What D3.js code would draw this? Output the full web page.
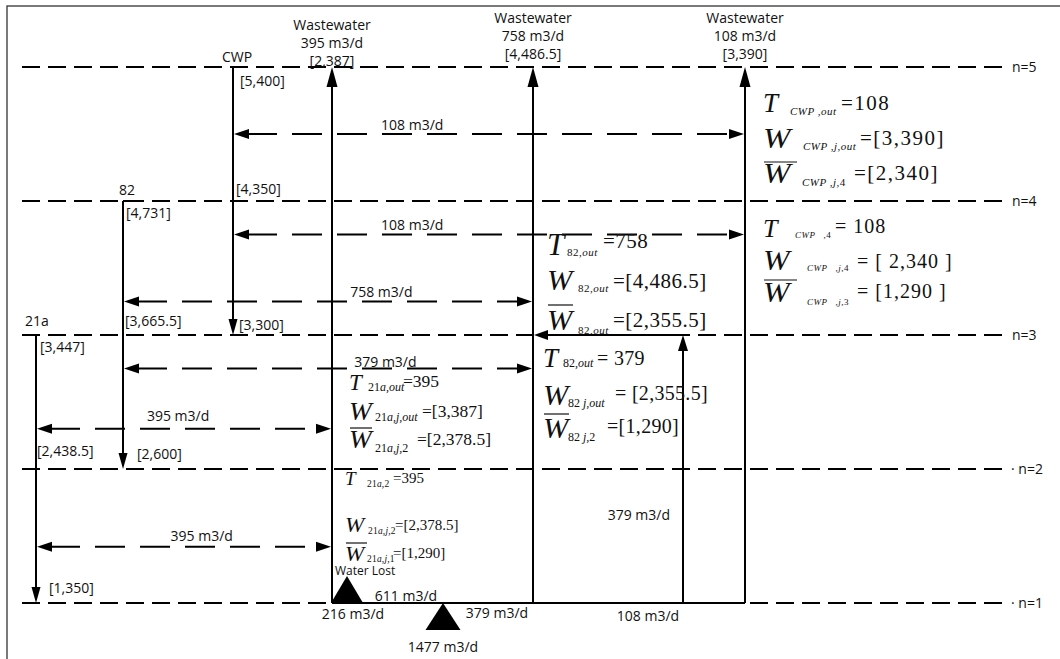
<!DOCTYPE html>
<html>
<head>
<meta charset="utf-8">
<script src="https://cdn.jsdelivr.net/npm/d3@7"></script>
<style>
  body { margin: 0; background: #fff; }
  text { fill: #111; }
  .lbl { font-family: "Open Sans", sans-serif; font-size: 14px; }
  .math text { font-family: "Liberation Serif", "Times New Roman", serif; white-space: pre; }
</style>
</head>
<body>
<script>
// interval levels and their labels
const levels = [1, 2, 3, 4, 5];
const levelLabels = ['\u00b7 n=1', '\u00b7 n=2', 'n=3', 'n=4', 'n=5'];

// process columns, left to right
const columns = ['21a', '82', 'CWP', 'WW395', 'WW758', 'R379', 'WW108'];

// source streams (go down the intervals)
const sourceNames = ['21a', '82', 'CWP'];
const sourceTop = [3, 4, 5];
const sourceBottom = [1, 2, 3];
const sourceConcIn = ['[3,447]', '[4,731]', '[5,400]'];
const sourceConcMid = ['[2,438.5]', '[3,665.5]', '[4,350]'];
const sourceConcOut = ['[1,350]', '[2,600]', '[3,300]'];

// wastewater sinks
const sinkKeys = ['WW395', 'WW758', 'WW108'];
const sinkFlow = [395, 758, 108];
const sinkConc = ['[2,387]', '[4,486.5]', '[3,390]'];

// transfers between a source and a sink (dashed double arrows)
const transferFrom = ['CWP', 'CWP', '82', '82', '21a', '21a'];
const transferTo = ['WW108', 'WW108', 'WW758', 'WW758', 'WW395', 'WW395'];
const transferLevel = [4.5, 3.75, 3.25, 2.75, 2.3, 1.42];
const transferFlow = [108, 108, 758, 379, 395, 395];

// fresh water / loss / return at n=1
const freshWater = 1477;
const waterLost = 216;
const bottomFlows = [611, 379, 108];
const returnFlow = 379;

// formula blocks: [symbol, subscript, value]
const fCwpOut = [['T', 'CWP ,out', '=108'], ['W', 'CWP ,j,out', '=[3,390]'], ['Wbar', 'CWP ,j,4', '=[2,340]']];
const fCwp4 = [['T', 'CWP   ,4', '= 108'], ['W', 'CWP   ,j,4', '= [ 2,340 ]'], ['Wbar', 'CWP   ,j,3', '= [1,290 ]']];
const f82Out = [['T', '82,out', '=758'], ['W', '82,out', '=[4,486.5]'], ['Wbar', '82,out', '=[2,355.5]']];
const f82j = [['T', '82,out', '= 379'], ['W', '82 j,out', '= [2,355.5]'], ['Wbar', '82 j,2', '=[1,290]']];
const f21aOut = [['T', '21a,out', '=395'], ['W', '21a,j,out', '=[3,387]'], ['Wbar', '21a,j,2', '=[2,378.5]']];
const f21a2 = [['T', '21a,2', '=395'], ['W', '21a,j,2', '=[2,378.5]'], ['Wbar', '21a,j,1', '=[1,290]']];

const width = 1060, height = 659;
const svg = d3.select('body').append('svg').attr('width', width).attr('height', height);

const y = d3.scaleLinear().domain([1, 5]).range([603, 67]);
const x = d3.scaleOrdinal().domain(columns).range([36, 123, 233, 332, 533, 683, 745]);
const x0 = 22, x1 = 1008;

svg.append('rect').attr('x', 7).attr('y', 6).attr('width', 1100).attr('height', 700)
  .attr('fill', 'none').attr('stroke', '#333').attr('stroke-width', 1.3);

// arrowhead, tip at (tx,ty)
function head(tx, ty, dir, len = 16, w = 11) {
  let p;
  if (dir === 'up') p = [[tx, ty], [tx - w / 2, ty + len], [tx + w / 2, ty + len]];
  if (dir === 'down') p = [[tx, ty], [tx - w / 2, ty - len], [tx + w / 2, ty - len]];
  if (dir === 'left') p = [[tx, ty], [tx + len, ty - w / 2], [tx + len, ty + w / 2]];
  if (dir === 'right') p = [[tx, ty], [tx - len, ty - w / 2], [tx - len, ty + w / 2]];
  svg.append('path').attr('d', d3.line()(p) + 'Z').attr('fill', '#000');
}
function seg(xa, ya, xb, yb, dash) {
  return svg.append('line').attr('x1', xa).attr('y1', ya).attr('x2', xb).attr('y2', yb)
    .attr('stroke', '#000').attr('stroke-width', 2).attr('stroke-dasharray', dash || null);
}
function label(tx, ty, s, anchor = 'start') {
  return svg.append('text').attr('class', 'lbl').attr('x', tx).attr('y', ty)
    .attr('text-anchor', anchor).text(s);
}

// interval lines
levels.forEach((n, i) => {
  seg(x0, y(n), x1, y(n), '18,8');
  label(levelLabels[i].startsWith('\u00b7') ? x1 + 3 : x1 + 4, y(n) + 5, levelLabels[i]);
});
// solid parts at n=1 and n=3
seg(x('WW395'), y(1), x('WW108'), y(1));
seg(x('WW758') + 12, y(3), x('R379'), y(3));
head(x('WW758') + 1, y(3), 'left', 14, 10);

// wastewater sinks
const headTop = { WW395: 30, WW758: 23, WW108: 23 };
sinkKeys.forEach((k, i) => {
  seg(x(k), y(1), x(k), y(5) + 14);
  head(x(k), y(5), 'up', 20, 11);
  const t = headTop[k];
  label(x(k), t, 'Wastewater', 'middle');
  label(x(k), t + 18, sinkFlow[i] + ' m3/d', 'middle');
  label(x(k), t + 36, sinkConc[i], 'middle');
});

// return flow from n=1 up to n=3
seg(x('R379'), y(1), x('R379'), y(3) + 14);
head(x('R379'), y(3), 'up', 16, 10);
label(x('R379') - 13, 520, returnFlow + ' m3/d', 'end');

// source streams
const srcLabel = {
  '21a': { name: [25, -9], in: [40, 17], mid: [37, -13], out: [49, -10] },
  '82': { name: [119, -6], in: [126, 17], mid: [125, -9], out: [137, -10] },
  'CWP': { name: [222, -5], in: [240, 19], mid: [236, -7], out: [239, -5] }
};
sourceNames.forEach((s, i) => {
  const xs = x(s), yt = y(sourceTop[i]), yb = y(sourceBottom[i]);
  seg(xs, yt, xs, yb - 14);
  head(xs, yb, 'down', 16, 9);
  const L = srcLabel[s];
  label(L.name[0], yt + L.name[1], s);
  label(L.in[0], yt + L.in[1], sourceConcIn[i]);
  label(L.mid[0], y(sourceTop[i] - 1) + L.mid[1], sourceConcMid[i]);
  label(L.out[0], yb + L.out[1], sourceConcOut[i]);
});
// little ticks at the top of 82 and 21a
seg(x('82'), y(4), x('82') + 6, y(4));
seg(x('21a') - 11, y(3), x('21a'), y(3));

// transfers
const labelPos = [0.35, 0.35, 0.63, 0.64, 0.48, 0.56];
const labelDy = [-4, -5, -5, -2, -8, -6];
transferFrom.forEach((f, i) => {
  const xa = x(f), xb = x(transferTo[i]), yy = y(transferLevel[i]);
  seg(xa + 14, yy, xb - 14, yy, '30,15');
  head(xa + 1, yy, 'left', 15, 10);
  head(xb - 1, yy, 'right', 15, 10);
  label(xa + (xb - xa) * labelPos[i], yy + labelDy[i], transferFlow[i] + ' m3/d', 'middle');
});

// bottom: water lost and fresh water triangles
const tri = (cx, base, apex, w) => svg.append('path')
  .attr('d', d3.line()([[cx, apex], [cx - w / 2, base], [cx + w / 2, base]]) + 'Z').attr('fill', '#000');
tri(x('WW395') + 15, y(1), y(1) - 27, 32);
tri(443, y(1) + 27, y(1), 35);
label(335, 575, 'Water Lost').style('font-size', '12px');
label(353, 619, waterLost + ' m3/d', 'middle');
label(443, 652, freshWater + ' m3/d', 'middle');
label(406, 601, bottomFlows[0] + ' m3/d', 'middle');
label(497, 618, bottomFlows[1] + ' m3/d', 'middle');
label(648, 621, bottomFlows[2] + ' m3/d', 'middle');

// formula blocks (T, W or W with overbar, subscript, value)
function formula(bx, rows, o) {
  rows.forEach((r, i) => {
    const by = o.base[i];
    const g = svg.append('g').attr('class', 'math');
    const isW = r[0] !== 'T';
    g.append('text').attr('transform', `translate(${bx},${by}) scale(${isW ? o.wsx : 1},1)`)
      .style('font-size', (isW ? o.W : o.T) + 'px').style('font-style', 'italic').text(isW ? 'W' : 'T');
    if (r[0] === 'Wbar') {
      g.append('line').attr('x1', bx + 1).attr('x2', bx + o.barW).attr('y1', by + o.barDy)
        .attr('y2', by + o.barDy).attr('stroke', '#111').attr('stroke-width', 1.2);
    }
    const sub = g.append('text').attr('x', bx + o.subX[i]).attr('y', by + o.subDy[i])
      .style('font-size', o.sub + 'px').style('letter-spacing', o.subLs + 'px');
    r[1].split(/(\d+)/).filter(s => s.length).forEach(s => {
      sub.append('tspan').style('font-style', /^\d+$/.test(s) ? 'normal' : 'italic').text(s);
    });
    g.append('text').attr('x', bx + o.valX[i]).attr('y', by + o.valDy[i])
      .style('font-size', o.val + 'px').style('letter-spacing', o.valLs + 'px').text(r[2]);
  });
}
formula(763, fCwpOut, { base: [112, 148, 183], T: 27, W: 30, wsx: 1.1, sub: 11, subLs: 0.5, val: 21, valLs: 1.5,
  subX: [27, 40, 39], valX: [78, 97, 91], subDy: [3, 2, 3], valDy: [-2, -3, -3], barDy: -21, barW: 34 });
formula(763, fCwp4, { base: [237, 270, 302], T: 26, W: 29, wsx: 1.1, sub: 9, subLs: 0.5, val: 20, valLs: 1,
  subX: [32, 44, 44], valX: [72, 94, 94], subDy: [1, 1, 3], valDy: [-4, -2, -4], barDy: -22, barW: 34 });
formula(547, f82Out, { base: [255, 290, 330], T: 31, W: 29, wsx: 1.05, sub: 11, subLs: 0.5, val: 21, valLs: 0.5,
  subX: [20, 31, 31], valX: [56, 66, 66], subDy: [1, 2, 4], valDy: [-7, -2, -3], barDy: -25, barW: 26 });
formula(543, f82j, { base: [367, 405, 438], T: 27, W: 29, wsx: 1.05, sub: 12, subLs: 0, val: 20, valLs: 0.3,
  subX: [20, 25, 25], valX: [54, 72, 64], subDy: [0, 2, 3], valDy: [-2, -5, -5], barDy: -24, barW: 26 });
formula(349, f21aOut, { base: [390, 420, 448], T: 23, W: 26, wsx: 1.05, sub: 12, subLs: 0, val: 17.5, valLs: 0,
  subX: [19, 26, 26], valX: [54, 73, 68], subDy: [1, 1, 4], valDy: [-3, -3, -3], barDy: -20, barW: 23 });
formula(345, f21a2, { base: [485, 532, 561], T: 19, W: 21, wsx: 1.1, sub: 9.5, subLs: 0.2, val: 15, valLs: 0,
  subX: [22, 23, 22], valX: [48, 50, 48], subDy: [2, 2, 1], valDy: [-2, -2, -3], barDy: -18, barW: 22 });
</script>
</body>
</html>
